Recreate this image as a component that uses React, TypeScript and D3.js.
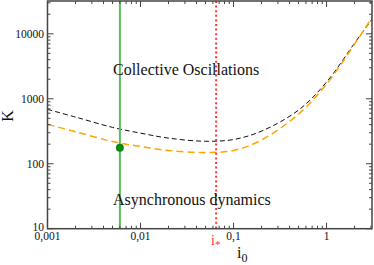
import React from "react";
import * as d3 from "d3";

const i0Values = [0.001, 0.002, 0.005, 0.01, 0.02, 0.05, 0.1, 0.2, 0.5, 1, 2, 3.2];
const kBlack = [687, 523, 363, 296, 248, 222, 236, 318, 670, 1807, 7190, 18070];
const kOrange = [404, 311, 220, 184, 160, 149, 160, 232, 582, 1682, 6920, 19500];
const xMajor = [0.001, 0.01, 0.1, 1];
const xTickLabels = ["0,001", "0,01", "0,1", "1"];
const yMajor = [10, 100, 1000, 10000];
const yTickLabels = ["10", "100", "1000", "10000"];
const greenX = 0.006;
const greenDotK = 176;
const iStar = 0.065;

const W = 374, H = 265;
const L = 47.5, R = 372, T = 1, B = 228.7;

export default function App() {
  const x = d3.scaleLog().domain([0.001, 3.08]).range([L, R]);
  const y = d3.scaleLog().domain([10, 32000]).range([B, T]);
  const line = d3.line<number>().x((_, i) => x(i0Values[i])).y((d) => y(d)).curve(d3.curveCatmullRom.alpha(0.5));
  const xt = x.ticks();
  const yt = y.ticks();
  const isMajor = (v: number) => Math.abs(Math.log10(v) - Math.round(Math.log10(v))) < 1e-6;
  const axis = "#444";
  const font = "'Liberation Serif', 'Times New Roman', 'DejaVu Serif', serif";
  return (
    <svg width={W} height={H} style={{ position: "absolute", left: 0, top: 0, background: "#fff", fontFamily: font }}>
      <defs>
        <clipPath id="plot"><rect x={L} y={T} width={R - L} height={B - T} /></clipPath>
      </defs>
      <g clipPath="url(#plot)">
        <path d={line(kBlack) || ""} fill="none" stroke="#111" strokeWidth={1} strokeDasharray="5,3" />
        <path d={line(kOrange) || ""} fill="none" stroke="#ffa500" strokeWidth={1.5} strokeDasharray="7,4" />
        <line x1={x(greenX)} x2={x(greenX)} y1={T} y2={B} stroke="#5cbc5c" strokeWidth={2} />
        <line x1={x(iStar)} x2={x(iStar)} y1={T} y2={B} stroke="#ff3333" strokeWidth={2} strokeDasharray="2,2.6" />
        <circle cx={x(greenX)} cy={y(greenDotK)} r={4} fill="#0a8c0a" />
      </g>
      {xt.map((v, i) => {
        const len = isMajor(v) ? 6 : 3;
        return (
          <g key={"x" + i}>
            <line x1={x(v)} x2={x(v)} y1={B} y2={B - len} stroke={axis} strokeWidth={1} />
            <line x1={x(v)} x2={x(v)} y1={T} y2={T + len} stroke={axis} strokeWidth={1} />
          </g>
        );
      })}
      {yt.map((v, i) => {
        const len = isMajor(v) ? 6 : 3;
        return (
          <g key={"y" + i}>
            <line x1={L} x2={L + len} y1={y(v)} y2={y(v)} stroke={axis} strokeWidth={1} />
            <line x1={R} x2={R - len} y1={y(v)} y2={y(v)} stroke={axis} strokeWidth={1} />
          </g>
        );
      })}
      <rect x={L} y={T} width={R - L} height={B - T} fill="none" stroke={axis} strokeWidth={1.5} />
      {xMajor.map((v, i) => (
        <text key={"xl" + i} x={x(v)} y={240} fontSize={11.5} textAnchor="middle" fill="#111">{xTickLabels[i]}</text>
      ))}
      {yMajor.map((v, i) => (
        <text key={"yl" + i} x={44} y={y(v) - (i === 0 ? 2 : 0)} dy="0.35em" fontSize={11.5} textAnchor="end" fill="#111">{yTickLabels[i]}</text>
      ))}
      <text x={113} y={75} fontSize={16} fill="#111">Collective Oscillations</text>
      <text x={113} y={205} fontSize={16} fill="#111">Asynchronous dynamics</text>
      <text x={211} y={245} fontSize={14} fill="#ff3333">i<tspan dy={3} fontSize={11}>*</tspan></text>
      <text x={237} y={258} fontSize={16} fill="#111">i<tspan dy={4} fontSize={12}>0</tspan></text>
      <text transform="translate(13,116) rotate(-90)" fontSize={16} textAnchor="middle" fill="#111">K</text>
    </svg>
  );
}
